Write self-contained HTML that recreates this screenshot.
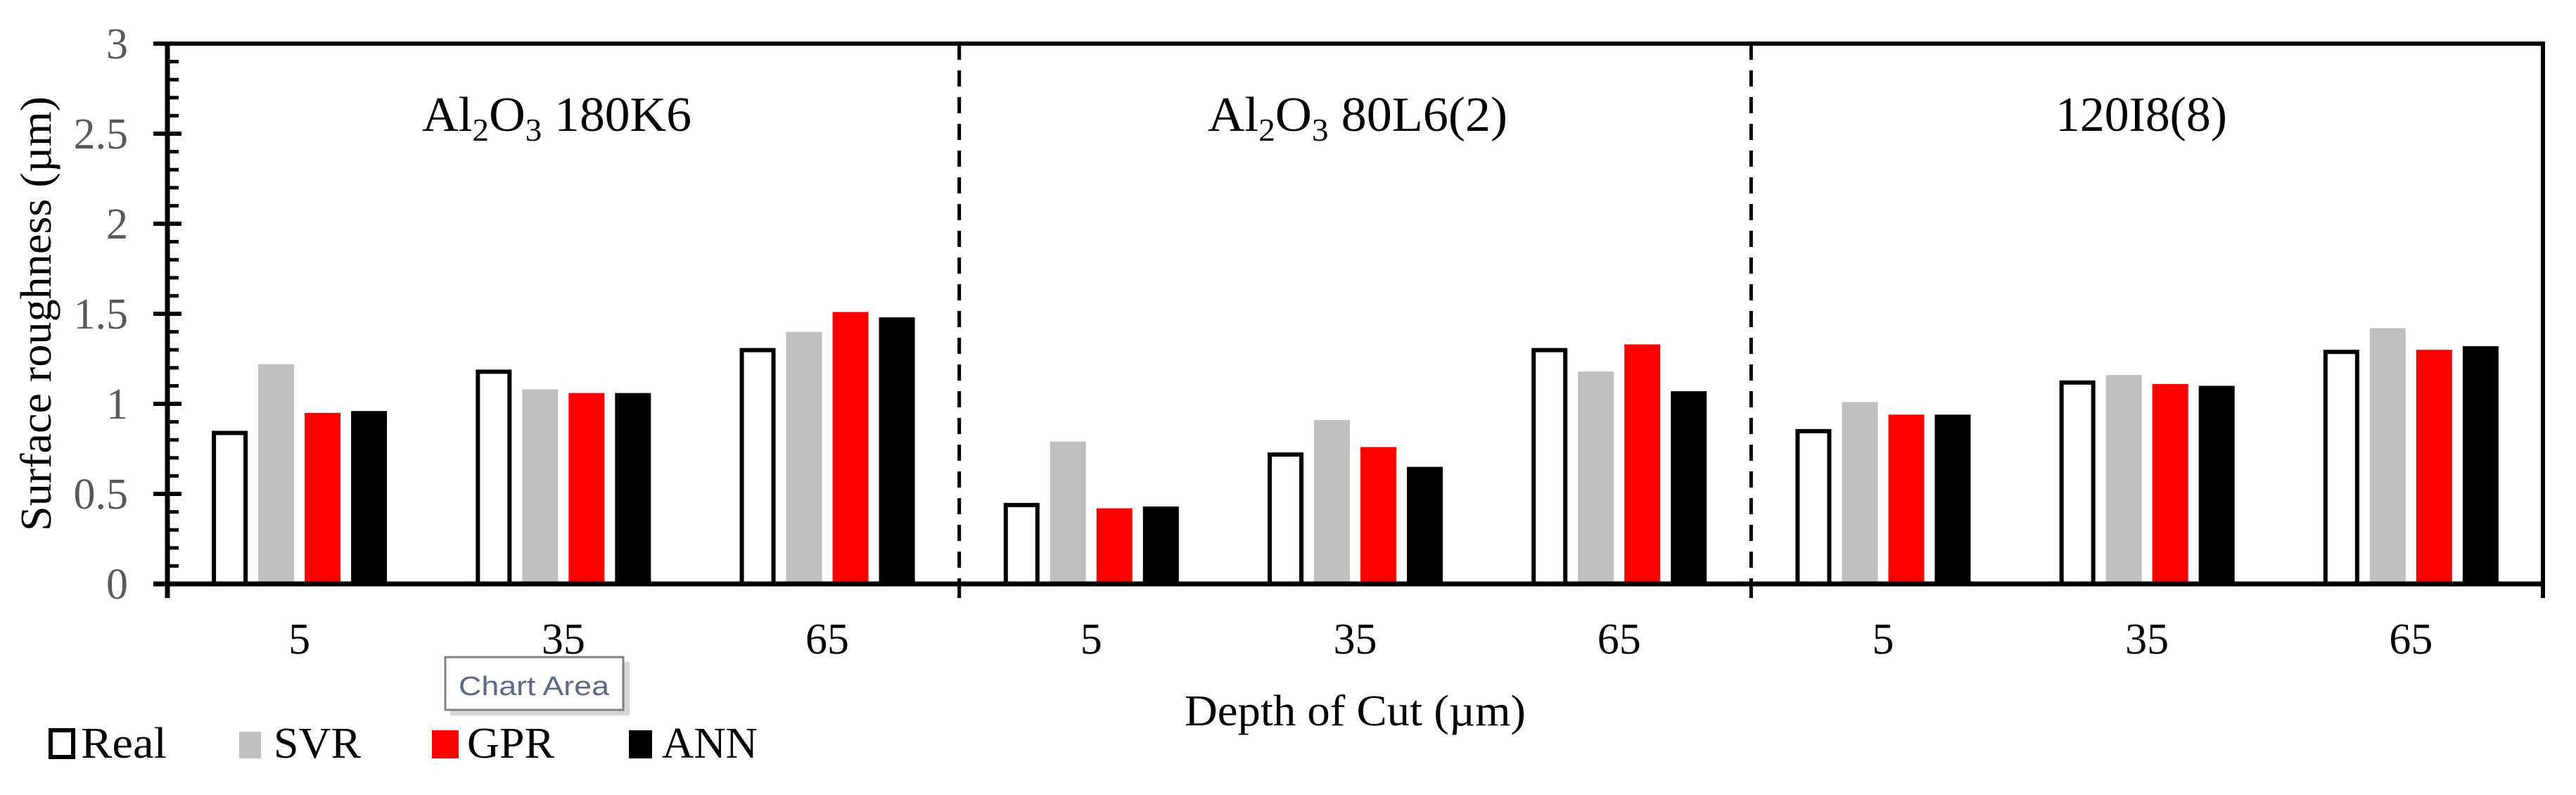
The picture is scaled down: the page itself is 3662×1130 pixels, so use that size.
<!DOCTYPE html>
<html><head><meta charset="utf-8"><style>
html,body{margin:0;padding:0;background:#fff;}
svg{display:block;font-family:"Liberation Serif",serif;}
</style></head><body>
<svg id="chart" width="3662" height="1130" viewBox="0 0 3662 1130" xmlns="http://www.w3.org/2000/svg">
<rect x="0" y="0" width="3662" height="1130" fill="#fff"/>
<g id="plot"></g>
<text x="600" y="186" font-size="70" textLength="383" lengthAdjust="spacingAndGlyphs">Al<tspan font-size="46" dy="14">2</tspan><tspan dy="-14">O</tspan><tspan font-size="46" dy="14">3</tspan><tspan dy="-14"> 180K6</tspan></text>
<text x="1717" y="186" font-size="70" textLength="426" lengthAdjust="spacingAndGlyphs">Al<tspan font-size="46" dy="14">2</tspan><tspan dy="-14">O</tspan><tspan font-size="46" dy="14">3</tspan><tspan dy="-14"> 80L6(2)</tspan></text>
<text x="2922" y="186" font-size="70" textLength="244" lengthAdjust="spacingAndGlyphs">120I8(8)</text>
<text transform="translate(72,446) rotate(-90)" text-anchor="middle" font-size="62" textLength="618" lengthAdjust="spacingAndGlyphs">Surface roughness (µm)</text>
<text x="1684" y="1031" font-size="62" textLength="485" lengthAdjust="spacingAndGlyphs">Depth of Cut (µm)</text>
<g font-size="62">
 <g><rect x="72" y="1038" width="32" height="38" fill="#fff" stroke="#000" stroke-width="6"/><text x="115" y="1077" textLength="122" lengthAdjust="spacingAndGlyphs">Real</text></g>
 <g><rect x="340" y="1040" width="31" height="38" fill="#bfbfbf"/><text x="389" y="1077" textLength="124" lengthAdjust="spacingAndGlyphs">SVR</text></g>
 <g><rect x="614" y="1038" width="38" height="40" fill="#ff0000"/><text x="664" y="1077" textLength="124" lengthAdjust="spacingAndGlyphs">GPR</text></g>
 <g><rect x="894" y="1038" width="33" height="40" fill="#000"/><text x="941" y="1077" textLength="136" lengthAdjust="spacingAndGlyphs">ANN</text></g>
</g>
<g>
 <rect x="640" y="941" width="255" height="76" fill="#bbb" opacity="0.6"/>
 <rect x="633" y="934" width="253" height="75" fill="#fff" stroke="#808080" stroke-width="3"/>
 <text x="652" y="988" font-family="'Liberation Sans',sans-serif" font-size="38" fill="#5a6a85" textLength="214" lengthAdjust="spacingAndGlyphs">Chart Area</text>
</g>
</svg>
<script>
const categories = ["5","35","65","5","35","65","5","35","65"];
const seriesNames = ["Real","SVR","GPR","ANN"];
const realVals = [0.85,1.19,1.31,0.45,0.73,1.31,0.86,1.13,1.30];
const svrVals  = [1.22,1.08,1.40,0.79,0.91,1.18,1.01,1.16,1.42];
const gprVals  = [0.95,1.06,1.51,0.42,0.76,1.33,0.94,1.11,1.30];
const annVals  = [0.96,1.06,1.48,0.43,0.65,1.07,0.94,1.10,1.32];
const yTicks = [0,0.5,1,1.5,2,2.5,3];
const yTickLabels = ["0","0.5","1","1.5","2","2.5","3"];

const NS="http://www.w3.org/2000/svg";
const X0=238, X1=3615, Y0=830, YT=62, YMAX=3;
const catW=(X1-X0)/categories.length;
function yScale(v){return Y0-(v/YMAX)*(Y0-YT);}
function xCat(i){return X0+catW*(i+0.5);}
const plotG=document.getElementById('plot');
function mk(tag,attrs){const e=document.createElementNS(NS,tag);for(const k in attrs)e.setAttribute(k,attrs[k]);plotG.appendChild(e);return e;}

const series=[realVals,svrVals,gprVals,annVals];
const fills=["#fff","#bfbfbf","#ff0000","#000"];
const pitch=66, bw=51;
series.forEach((vals,s)=>{
  vals.forEach((v,i)=>{
    const cx=xCat(i)+(s-1.5)*pitch;
    const y=yScale(v);
    let r;
    if(s===0){
      r=mk('rect',{x:cx-bw/2+3,y:y+3,width:bw-6,height:Y0-y-3,fill:'#fff',stroke:'#000','stroke-width':6});
    } else {
      r=mk('rect',{x:cx-bw/2,y:y,width:bw,height:Y0-y,fill:fills[s]});
    }
    
    
  });
});

for(let k=1;k<30;k++){
  if(k%5===0)continue;
  const y=yScale(k*0.1);
  const t=mk('line',{x1:X0,x2:X0+16,y1:y,y2:y,stroke:'#000','stroke-width':5});
  
  
}
yTicks.forEach((v,i)=>{
  const y=yScale(v);
  const t=mk('line',{x1:X0-20,x2:X0+20,y1:y,y2:y,stroke:'#000','stroke-width':6});
  
  
  const lb=mk('text',{x:182,y:y+21,'text-anchor':'end','font-size':62,fill:'#595959'});
  lb.textContent=yTickLabels[i];
  
  
});
categories.forEach((c,i)=>{
  const lb=mk('text',{x:xCat(i),y:929,'text-anchor':'middle','font-size':62});
  lb.textContent=c;
  
  
});
[3,6].forEach(i=>{
  const x=X0+catW*i;
  const d=mk('line',{x1:x,x2:x,y1:YT,y2:Y0,stroke:'#000','stroke-width':5,'stroke-dasharray':'23 15'});
  
  
  const t=mk('line',{x1:x,x2:x,y1:Y0,y2:850,stroke:'#000','stroke-width':5});
  
  
});
const topBorder=mk('line',{x1:X0,x2:X1+3,y1:YT,y2:YT,stroke:'#000','stroke-width':6});


const rightBorder=mk('line',{x1:X1,x2:X1,y1:YT,y2:850,stroke:'#000','stroke-width':6});


const yAxisLine=mk('line',{x1:X0,x2:X0,y1:YT,y2:850,stroke:'#000','stroke-width':7});


const xAxisLine=mk('line',{x1:X0-20,x2:X1+3,y1:Y0,y2:Y0,stroke:'#000','stroke-width':7});


</script>
</body></html>
